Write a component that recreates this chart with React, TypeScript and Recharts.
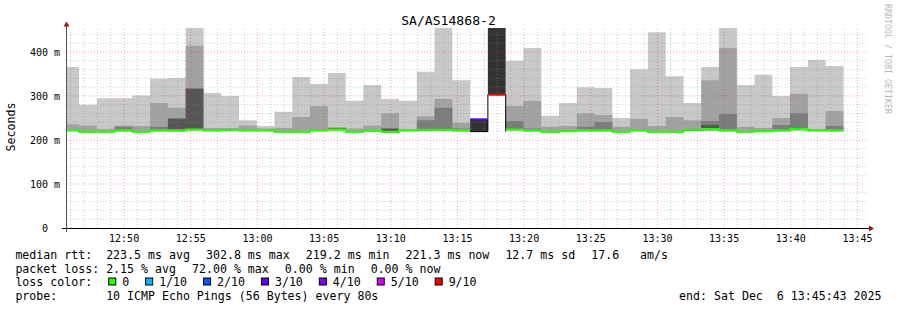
import React from 'react';
import { ComposedChart, Area, Line, XAxis, YAxis, ReferenceLine } from 'recharts';

const N = null;

// ---------- data ----------
const titleText = 'SA/AS14868-2';
const yAxisTitle = 'Seconds';
const watermark = 'RRDTOOL / TOBI OETIKER';
const windowStart = '12:45:43';
const windowEnd = '13:45:43';
const firstStepTime = '12:46:37';
const stepSeconds = 80;
const xTickLabels = ['12:50', '12:55', '13:00', '13:05', '13:10', '13:15', '13:20', '13:25', '13:30', '13:35', '13:40', '13:45'];
const yTickValues = [0, 100, 200, 300, 400];
const yTopMs = 454.5;

// one entry per 80 s step (index 0 = step partly before the window), values in ms
const medianMs = [222, 219, 219, 222, 219, 222, 222, 224, 222, 223, 222, 222, 219, 219, 222, 224, 219, 221, 219, 222, 223, 224, 222, 247, 303, 224, 222, 219, 220, 222, 222, 219, 222, 219, 219, 223, 225, 222, 219, 220, 222, 225, 222, 222];
const lossTenths = [0, 0, 0, 0, 0, 0, 0, 0, 0, 0, 0, 0, 0, 0, 0, 0, 0, 0, 0, 0, 0, 0, 0, 3, 9, 0, 0, 0, 0, 0, 0, 0, 0, 0, 0, 0, 0, 0, 0, 0, 0, 0, 0, 0];
const smokeMinMs = [220, 217, 217, 220, 217, 220, 220, 222, 220, 221, 220, 220, 217, 217, 220, 222, 217, 219, 217, 220, 221, 222, 220, N, N, 222, 220, 217, 218, 220, 220, 217, 220, 217, 217, 221, 222, 220, 217, 218, 220, 222, 220, 220];
const smokeOuterMs = [366, 280, 295, 295, 301, 339, 341, 455, 307, 300, 245, 232, 264, 343, 327, 352, 289, 325, 293, 289, 355, 455, 336, N, N, 380, 409, 255, 284, 320, 318, 250, 361, 445, 345, 284, 366, 455, 325, 348, 300, 366, 382, 368];
const smokeMiddleMs = [236, 233, 225, 233, 232, 284, 273, 414, 227, 227, 233, 226, 227, 252, 277, 229, 226, 233, 261, 224, 254, 293, 239, N, N, 277, 289, 230, 232, 261, 257, 230, 248, 232, 252, 245, 336, 409, 230, 227, 250, 305, 225, 266];
const smokeInnerMs = [N, N, N, 230, N, 230, N, N, N, N, N, N, N, N, N, N, N, N, N, N, 245, 273, 226, N, N, 243, 226, N, N, 230, 241, N, N, N, N, N, 243, 259, N, N, 234, 261, N, 232];
const smokeCoreMs = [N, N, N, N, N, N, 249, 317, N, N, N, N, N, N, N, 227, N, N, 226, N, N, 226, N, N, N, N, N, N, N, N, N, N, N, N, N, 225, 234, N, N, N, N, N, N, N];
const lossBandLowMs = [N, N, N, N, N, N, N, N, N, N, N, N, N, N, N, N, N, N, N, N, N, N, N, 219, 303, N, N, N, N, N, N, N, N, N, N, N, N, N, N, N, N, N, N, N];
const lossBandHighMs = [N, N, N, N, N, N, N, N, N, N, N, N, N, N, N, N, N, N, N, N, N, N, N, 247, 455, N, N, N, N, N, N, N, N, N, N, N, N, N, N, N, N, N, N, N];
const noReplyEdgeMs = [N, N, N, N, N, N, N, N, N, N, N, N, N, N, N, N, N, N, N, N, N, N, N, 219, 303, 219, N, N, N, N, N, N, N, N, N, N, N, N, N, N, N, N, N, N];

const lossLegendLabels = ['0', '1/10', '2/10', '3/10', '4/10', '5/10', '9/10'];
const lossLegendTenths = [0, 1, 2, 3, 4, 5, 9];
const lossLegendColors = ['#26ff00', '#00b8ff', '#0059ff', '#5e00ff', '#7e00ff', '#dd00ff', '#ff0000'];

const medianStatValues = [223.5, 302.8, 219.2, 221.3];
const medianStatNames = ['avg', 'max', 'min', 'now'];
const medianSdMs = 12.7;
const medianAmPerSec = 17.6;
const lossStatValues = [2.15, 72.0, 0.0, 0.0];
const lossStatNames = ['avg', 'max', 'min', 'now'];
const probeText = 'probe:       10 ICMP Echo Pings (56 Bytes) every 80s';
const endText = 'end: Sat Dec  6 13:45:43 2025';

// ---------- styles ----------
const W = 897;
const H = 310;
const MONO = "'DejaVu Sans Mono', monospace";
const ARROW = '#7f1f1f';
const SMOKE = ['#c8c8c8', '#a2a2a2', '#7c7c7c', '#565656'];
const LOSS_BAND = '#333333';

// ---------- build table ----------
const toSec = (s: string) => {
  const p = s.split(':').map(Number);
  return p[0] * 3600 + p[1] * 60 + (p[2] || 0);
};
const t0 = toSec(windowStart);
const span = toSec(windowEnd) - t0;
const STEPS = medianMs.length;
const stepStart = (i: number) => (i === 0 ? 0 : toSec(firstStepTime) - t0 + (i - 1) * stepSeconds);
const levelOf = (tenths: number) => {
  let lv = 0;
  lossLegendTenths.forEach((t, k) => { if (t <= tenths) lv = k; });
  return lv;
};

const layerRange = (layer: (number | null)[], j: number) => {
  const base = smokeMinMs[j] ?? medianMs[j];
  const top = layer[j] ?? base;
  return [base, top];
};

const rows: any[] = [];
for (let i = 0; i <= STEPS; i++) {
  const j = Math.min(i, STEPS - 1);
  const row: any = {
    t: stepStart(i),
    outer: layerRange(smokeOuterMs, j),
    middle: layerRange(smokeMiddleMs, j),
    inner: layerRange(smokeInnerMs, j),
    core: layerRange(smokeCoreMs, j),
    noReply: i < STEPS ? noReplyEdgeMs[i] : null,
  };
  if (i < STEPS && lossBandLowMs[i] != null) row.lossBand = [lossBandLowMs[i], lossBandHighMs[i]];
  else if (i > 0 && lossBandLowMs[i - 1] != null) row.lossBand = [lossBandLowMs[i - 1], lossBandHighMs[i - 1]];
  else row.lossBand = null;
  lossLegendColors.forEach((_, c) => {
    let v: number | null = null;
    if (i < STEPS && levelOf(lossTenths[i]) === c) v = medianMs[i];
    else if (i > 0 && levelOf(lossTenths[i - 1]) === c) v = medianMs[i - 1];
    row['m' + c] = v;
  });
  rows.push(row);
}

const xTickSecs = xTickLabels.map((l) => toSec(l) - t0);
const xMinorSecs: number[] = [];
for (let s = toSec('12:46') - t0; s < span; s += 60) if (!xTickSecs.includes(s)) xMinorSecs.push(s);
const yMinor: number[] = [];
for (let v = 20; v < yTopMs; v += 20) if (v % 100 !== 0) yMinor.push(v);
const yMajor = yTickValues.filter((v) => v > 0);

const fmtY = (v: number) => (v === 0 ? '0  ' : `${v} m`);

// ---------- decorations ----------
function YTick(props: any) {
  const { x, y, payload } = props;
  return (
    <text x={x} y={y} dy="0.355em" textAnchor="end" fontSize={10} fontFamily={MONO} fill="#000" xmlSpace="preserve" style={{ whiteSpace: 'pre' }}>
      {fmtY(payload.value)}
    </text>
  );
}

function YDecor(props: any) {
  const vb = props.viewBox;
  if (!vb) return null;
  const ax = vb.x + vb.width;
  const top = vb.y;
  const bottom = vb.y + vb.height;
  return (
    <g>
      <line x1={ax - 0.5} x2={ax - 0.5} y1={bottom + 4} y2={top - 2} stroke="#555" strokeWidth={1} />
      <polygon points={`${ax - 0.5},${top - 6.5} ${ax - 3.5},${top - 1.5} ${ax + 2.5},${top - 1.5}`} fill={ARROW} />
    </g>
  );
}

function XDecor(props: any) {
  const vb = props.viewBox;
  if (!vb) return null;
  const right = vb.x + vb.width;
  const y = vb.y + 0.5;
  return (
    <g>
      <line x1={vb.x - 5} x2={right + 2} y1={y} y2={y} stroke="#000" strokeWidth={1} />
      <polygon points={`${right + 7},${y} ${right + 2},${y - 3} ${right + 2},${y + 3}`} fill={ARROW} />
    </g>
  );
}

const CH = 11.6 * 0.602;
const GAP = 16;
const ROW_X = 15.4;
const ROW_Y = [259, 272.5, 286, 299.5];

function layoutItems(items: string[], x0: number) {
  let x = x0;
  return items.map((s) => {
    const r = { s, x };
    x += s.length * CH + GAP;
    return r;
  });
}

const row1 = layoutItems(
  [
    `median rtt:  ${medianStatValues[0].toFixed(1)} ms ${medianStatNames[0]}`,
    ...medianStatValues.slice(1).map((v, k) => `${v.toFixed(1)} ms ${medianStatNames[k + 1]}`),
    `${medianSdMs.toFixed(1)} ms sd`,
    `${medianAmPerSec.toFixed(1)}   am/s`,
  ],
  ROW_X
);
const row2 = layoutItems(
  [
    `packet loss: ${lossStatValues[0].toFixed(2)} % ${lossStatNames[0]}`,
    ...lossStatValues.slice(1).map((v, k) => `${v.toFixed(2)} % ${lossStatNames[k + 1]}`),
  ],
  ROW_X
);
const lossHead = 'loss color:';
const lossItems = (() => {
  let x = ROW_X + lossHead.length * CH + GAP;
  return lossLegendLabels.map((l, k) => {
    const r = { x, label: l, color: lossLegendColors[k] };
    x += (2 + l.length) * CH + GAP;
    return r;
  });
})();

const txt = { fontFamily: MONO, fill: '#000', whiteSpace: 'pre' as const };
const MINOR = { stroke: '#909090', strokeOpacity: 0.45, strokeDasharray: '1 2' };
const MAJOR = { stroke: '#ff0000', strokeOpacity: 0.35, strokeDasharray: '1 2' };

export default function App() {
  return (
    <div style={{ position: 'absolute', left: 0, top: 0, width: W, height: H, background: '#fff', overflow: 'hidden' }}>
      <ComposedChart width={W} height={H} data={rows} margin={{ top: 28, right: 30, bottom: 62, left: 7 }}>
        <XAxis
          type="number"
          dataKey="t"
          domain={[0, span]}
          allowDataOverflow
          ticks={xTickSecs}
          interval={0}
          tickFormatter={(v: number) => xTickLabels[xTickSecs.indexOf(v)] ?? ''}
          tickLine={false}
          axisLine={false}
          tickSize={6}
          tickMargin={1}
          height={20}
          tick={{ fill: '#000', fontSize: 10, fontFamily: MONO }}
          label={{ content: (p: any) => <XDecor {...p} /> }}
        />
        <YAxis
          type="number"
          domain={[0, yTopMs]}
          allowDataOverflow
          ticks={yTickValues}
          interval={0}
          width={60}
          tickLine={false}
          axisLine={false}
          tickSize={6}
          tickMargin={1}
          tick={<YTick />}
          label={{ content: (p: any) => <YDecor {...p} /> }}
        />
        <Area type="stepAfter" dataKey="outer" fill={SMOKE[0]} fillOpacity={1} stroke="none" isAnimationActive={false} dot={false} activeDot={false} />
        <Area type="stepAfter" dataKey="middle" fill={SMOKE[1]} fillOpacity={1} stroke="none" isAnimationActive={false} dot={false} activeDot={false} />
        <Area type="stepAfter" dataKey="inner" fill={SMOKE[2]} fillOpacity={1} stroke="none" isAnimationActive={false} dot={false} activeDot={false} />
        <Area type="stepAfter" dataKey="core" fill={SMOKE[3]} fillOpacity={1} stroke="none" isAnimationActive={false} dot={false} activeDot={false} />
        <Area type="stepAfter" dataKey="lossBand" fill={LOSS_BAND} fillOpacity={1} stroke="none" isAnimationActive={false} dot={false} activeDot={false} connectNulls={false} />
        {yMinor.map((v) => (
          <ReferenceLine key={'ym' + v} y={v} {...MINOR} />
        ))}
        {xMinorSecs.map((s) => (
          <ReferenceLine key={'xm' + s} x={s} {...MINOR} />
        ))}
        {yMajor.map((v) => (
          <ReferenceLine key={'yM' + v} y={v} {...MAJOR} />
        ))}
        {xTickSecs.map((s) => (
          <ReferenceLine key={'xM' + s} x={s} {...MAJOR} />
        ))}
        <Line type="stepAfter" dataKey="noReply" stroke="#000" strokeWidth={1} dot={false} activeDot={false} isAnimationActive={false} connectNulls={false} />
        {lossLegendColors.map((c, k) => (
          <Line key={'m' + k} type="stepAfter" dataKey={'m' + k} stroke={c} strokeWidth={2} dot={false} activeDot={false} isAnimationActive={false} connectNulls={false} />
        ))}
      </ComposedChart>
      <svg width={W} height={H} style={{ position: 'absolute', left: 0, top: 0, pointerEvents: 'none' }}>
        <text x={448.5} y={24.5} textAnchor="middle" fontSize={13.1} style={txt}>{titleText}</text>
        <text x={11} y={127} transform="rotate(-90, 11, 127)" textAnchor="middle" dominantBaseline="central" fontSize={11.6} style={txt}>{yAxisTitle}</text>
        <text x={884.5} y={4} transform="rotate(90, 884.5, 4)" fontSize={8.3} style={{ ...txt, fill: '#b8b8b8' }}>{watermark}</text>
        {row1.map((it, k) => (
          <text key={'r1' + k} x={it.x} y={ROW_Y[0]} fontSize={11.6} style={txt} xmlSpace="preserve">{it.s}</text>
        ))}
        {row2.map((it, k) => (
          <text key={'r2' + k} x={it.x} y={ROW_Y[1]} fontSize={11.6} style={txt} xmlSpace="preserve">{it.s}</text>
        ))}
        <text x={ROW_X} y={ROW_Y[2]} fontSize={11.6} style={txt}>{lossHead}</text>
        {lossItems.map((it, k) => (
          <g key={'li' + k}>
            <rect x={it.x + 0.5} y={ROW_Y[2] - 8} width={7} height={7} fill={it.color} stroke="#000" strokeWidth={1} />
            <text x={it.x + 2 * CH} y={ROW_Y[2]} fontSize={11.6} style={txt}>{it.label}</text>
          </g>
        ))}
        <text x={ROW_X} y={ROW_Y[3]} fontSize={11.6} style={txt} xmlSpace="preserve">{probeText}</text>
        <text x={881.5} y={ROW_Y[3]} textAnchor="end" fontSize={11.6} style={txt} xmlSpace="preserve">{endText}</text>
      </svg>
    </div>
  );
}
